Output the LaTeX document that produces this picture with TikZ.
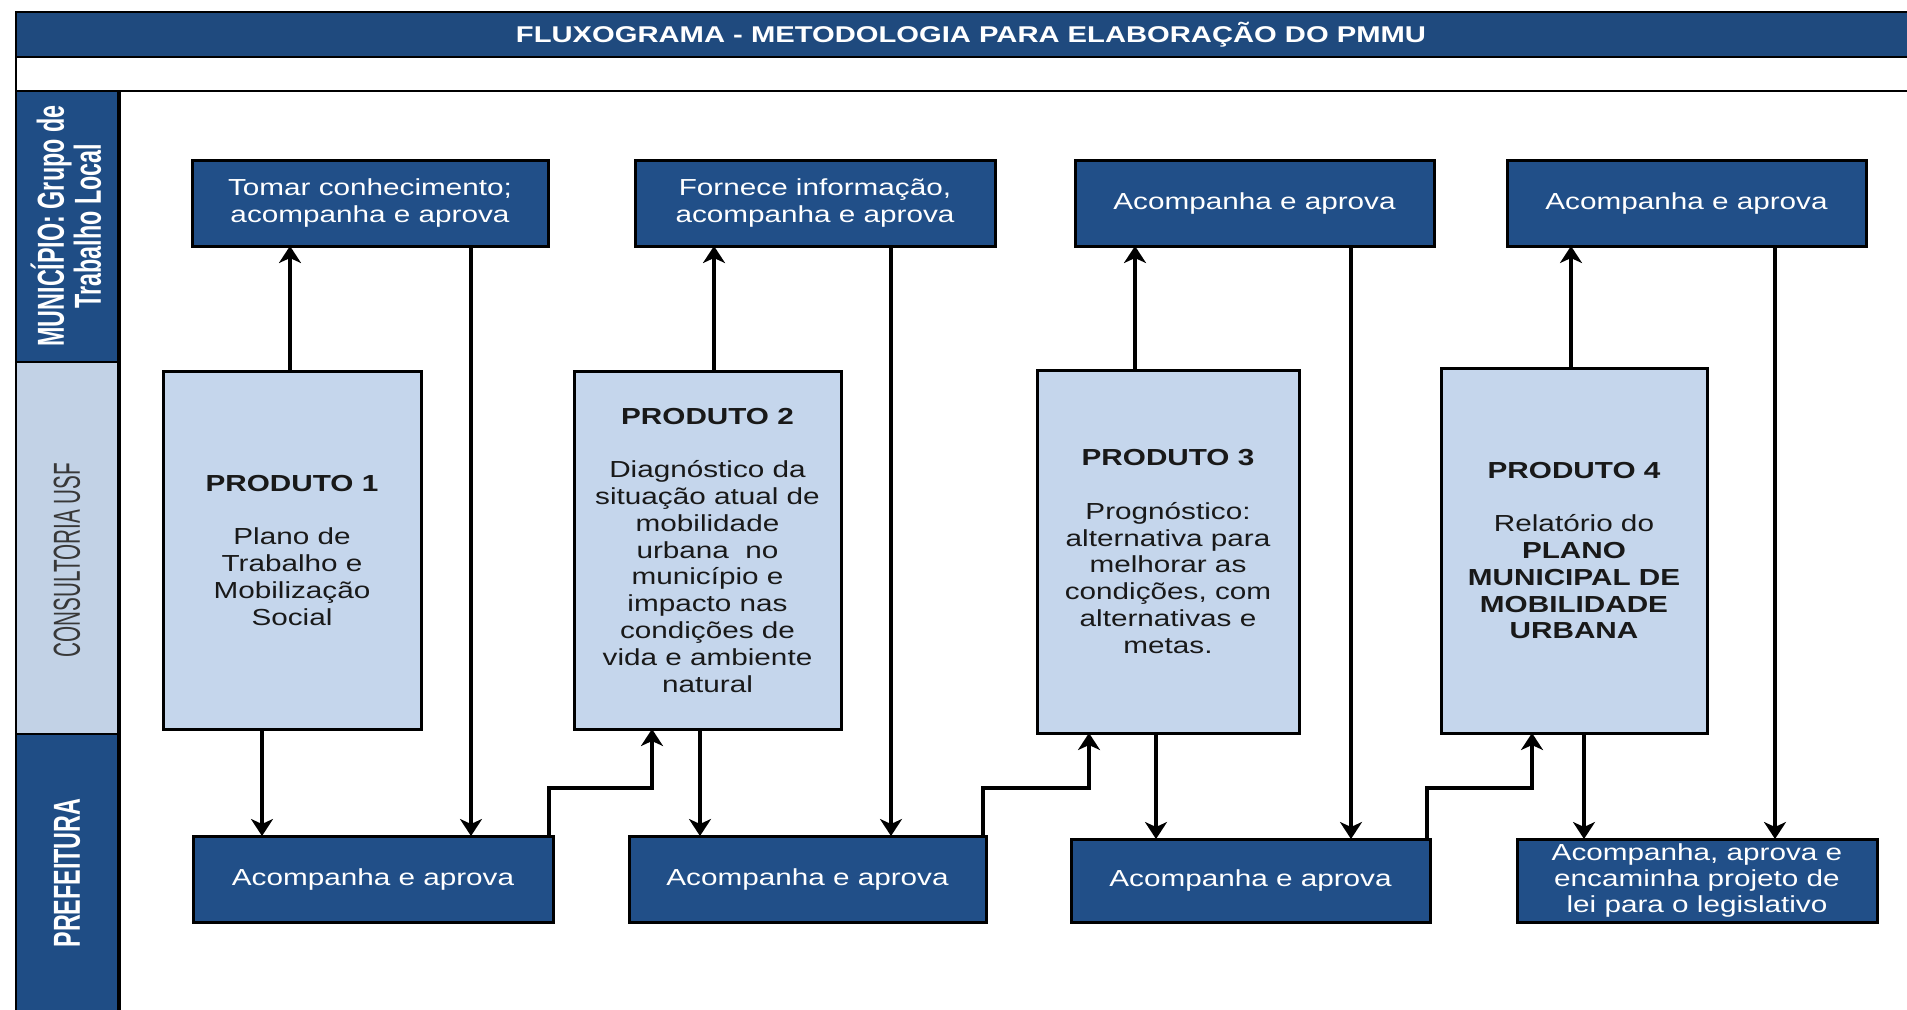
\documentclass[tikz,border=0pt]{standalone}
\usepackage{fontspec}
\setmainfont{Liberation Sans}[FakeStretch=1.28]
\newfontfamily\lanefont{Liberation Sans}[FakeStretch=0.62]
\newfontfamily\lanefontn{Liberation Sans}[FakeStretch=0.55]
\usetikzlibrary{arrows.meta}
\definecolor{dblue}{RGB}{33,79,136}
\definecolor{tblue}{RGB}{31,74,126}
\definecolor{lblue}{RGB}{197,214,236}
\definecolor{lanelight}{RGB}{194,210,230}
\definecolor{lanedark}{RGB}{31,77,133}
\begin{document}
\begin{tikzpicture}[x=0.5pt,y=-0.5pt,
  every node/.style={inner sep=0pt, outer sep=0pt},
  dbox/.style={draw=black, line width=1.5pt, fill=dblue, text=white, align=center,
    font=\fontsize{11.6}{13.8}\selectfont},
  pbox/.style={draw=black, line width=1.5pt, fill=lblue, text=black!90, align=center,
    font=\fontsize{11.6}{13.4}\selectfont},
  lanebox/.style={draw=black, line width=1.4pt, minimum width=51.5pt},
  lanetxt/.style={rotate=90, align=center},
  conn/.style={line width=1.8pt, draw=black},
  arr/.style={conn, -{Stealth[length=8.5pt,width=11pt,inset=2.5pt]}}
]
\useasboundingbox (0,0) rectangle (1907,1009);
\fill[white] (0,0) rectangle (1907,1009);

% title bar and frame
\node[fill=tblue, draw=black, line width=1.4pt, minimum width=948pt, minimum height=22.5pt] (title) at (964,34.5) {};
\node[text=white, font=\bfseries\fontsize{11.4}{13}\selectfont] (titletext) at (971,35) {FLUXOGRAMA - METODOLOGIA PARA ELABORAÇÃO DO PMMU};
\draw[line width=1.4pt] (1912,91) -- (16,91) -- (16,57);

% lanes
\node[lanebox, fill=lanedark, minimum height=135.5pt] (L1) at (67.5,226.5) {};
\node[lanebox, fill=lanelight, minimum height=186pt] (L2) at (67.5,548) {};
\node[lanebox, fill=lanedark, minimum height=140pt] (L3) at (67.5,874) {};
\draw[line width=2pt] (119,91) -- (119,1012);
\node[lanetxt, text=white, font=\lanefont\bfseries\fontsize{18.8}{18.5}\selectfont] (L1t) at (66,226) {MUNICÍPIO: Grupo de\\Trabalho Local};
\node[lanetxt, text=black!78, font=\lanefontn\fontsize{18.8}{18.5}\selectfont] (L2t) at (67,560) {CONSULTORIA USF};
\node[lanetxt, text=white, font=\lanefont\bfseries\fontsize{18.8}{18.5}\selectfont] (L3t) at (67,873) {PREFEITURA};

% top row
\node[dbox, minimum width=178pt, minimum height=43pt] (T1) at (370,203) {Tomar conhecimento;\\acompanha e aprova};
\node[dbox, minimum width=180pt, minimum height=43pt] (T2) at (815,203) {Fornece informação,\\acompanha e aprova};
\node[dbox, minimum width=179.5pt, minimum height=43pt] (T3) at (1254.5,203) {Acompanha e aprova};
\node[dbox, minimum width=179.5pt, minimum height=43pt] (T4) at (1686.5,203) {Acompanha e aprova};

% products
\node[pbox, minimum width=129pt, minimum height=179pt] (P1) at (292,550)
  {\textbf{PRODUTO 1}\\[13.4pt]Plano de\\Trabalho e\\Mobilização\\Social};
\node[pbox, minimum width=133.5pt, minimum height=179pt] (P2) at (707.5,550)
  {\textbf{PRODUTO 2}\\[13.4pt]Diagnóstico da\\situação atual de\\mobilidade\\urbana\ \ no\\município e\\impacto nas\\condições de\\vida e ambiente\\natural};
\node[pbox, minimum width=131pt, minimum height=181.5pt] (P3) at (1168,551.5)
  {\textbf{PRODUTO 3}\\[13.4pt]Prognóstico:\\alternativa para\\melhorar as\\condições, com\\alternativas e\\metas.};
\node[pbox, minimum width=133pt, minimum height=182.5pt] (P4) at (1574,550.5)
  {\textbf{PRODUTO 4}\\[13.4pt]Relatório do\\\textbf{PLANO}\\\textbf{MUNICIPAL DE}\\\textbf{MOBILIDADE}\\\textbf{URBANA}};

% bottom row
\node[dbox, minimum width=180pt, minimum height=43pt] (B1) at (373,879) {Acompanha e aprova};
\node[dbox, minimum width=178.5pt, minimum height=43pt] (B2) at (807.5,879) {Acompanha e aprova};
\node[dbox, minimum width=179.5pt, minimum height=41.5pt] (B3) at (1250.5,880.5) {Acompanha e aprova};
\node[dbox, minimum width=180pt, minimum height=41.5pt, font=\fontsize{11.6}{13}\selectfont,
  text depth=2pt] (B4) at (1697,880.5)
  {Acompanha, aprova e\\encaminha projeto de\\lei para o legislativo};

% x positions of connectors
\coordinate (a1) at (290,0);
\coordinate (a2) at (471,0);
\coordinate (a3) at (262,0);
\coordinate (a5) at (714,0);
\coordinate (a6) at (891,0);
\coordinate (a7) at (700,0);
\coordinate (a9) at (1135,0);
\coordinate (a10) at (1351,0);
\coordinate (a11) at (1156,0);
\coordinate (a13) at (1571,0);
\coordinate (a14) at (1775,0);
\coordinate (a15) at (1584,0);
\coordinate (e1) at (549,788);
\coordinate (e1b) at (652,788);
\coordinate (e2) at (983,788);
\coordinate (e2b) at (1089,788);
\coordinate (e3) at (1427,788);
\coordinate (e3b) at (1532,788);

% column 1
\draw[arr] (P1.north -| a1) -- (T1.south -| a1);
\draw[arr] (T1.south -| a2) -- (B1.north -| a2);
\draw[arr] (P1.south -| a3) -- (B1.north -| a3);
\draw[arr] (B1.north -| e1) -- (e1) -- (e1b) -- (P2.south -| e1b);
% column 2
\draw[arr] (P2.north -| a5) -- (T2.south -| a5);
\draw[arr] (T2.south -| a6) -- (B2.north -| a6);
\draw[arr] (P2.south -| a7) -- (B2.north -| a7);
\draw[arr] (B2.north -| e2) -- (e2) -- (e2b) -- (P3.south -| e2b);
% column 3
\draw[arr] (P3.north -| a9) -- (T3.south -| a9);
\draw[arr] (T3.south -| a10) -- (B3.north -| a10);
\draw[arr] (P3.south -| a11) -- (B3.north -| a11);
\draw[arr] (B3.north -| e3) -- (e3) -- (e3b) -- (P4.south -| e3b);
% column 4
\draw[arr] (P4.north -| a13) -- (T4.south -| a13);
\draw[arr] (T4.south -| a14) -- (B4.north -| a14);
\draw[arr] (P4.south -| a15) -- (B4.north -| a15);
\end{tikzpicture}
\end{document}
